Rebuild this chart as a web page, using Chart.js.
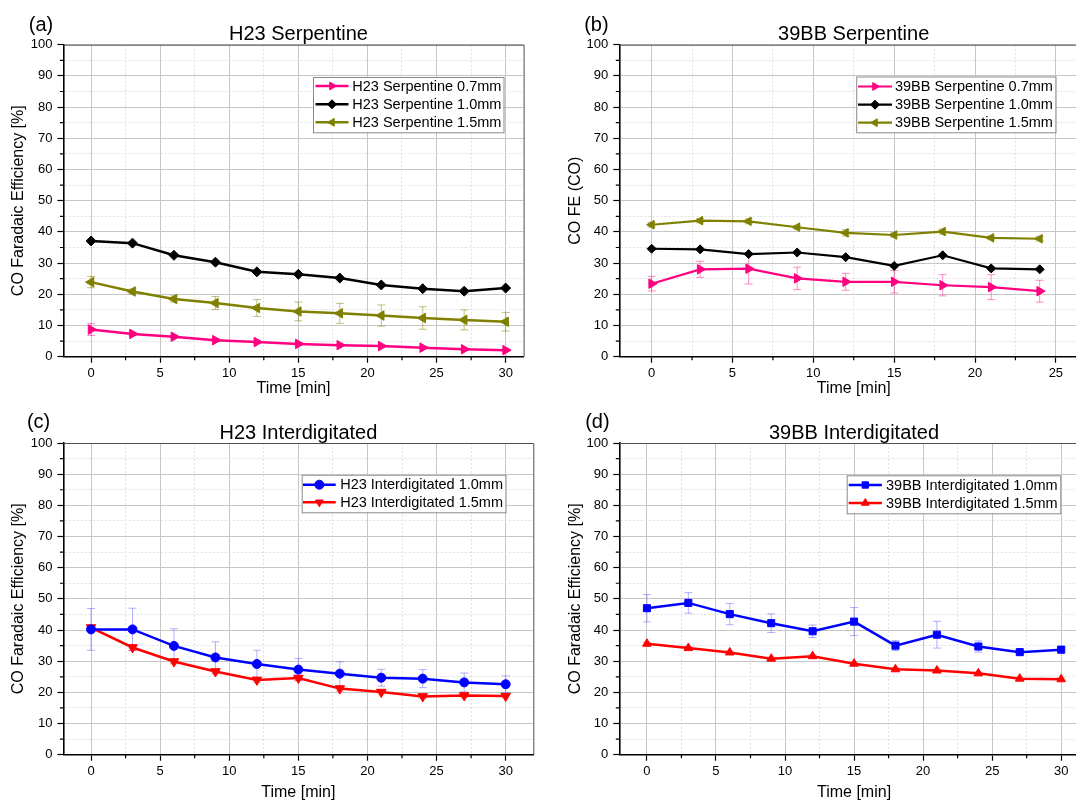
<!DOCTYPE html>
<html><head><meta charset="utf-8">
<script src="https://cdn.jsdelivr.net/npm/chart.js@4.4.0/dist/chart.umd.min.js"></script>
<style>
html,body{margin:0;padding:0;background:#fff;overflow:hidden;width:1076px;height:801px;position:relative;}
canvas{position:absolute;}
</style></head><body>
<canvas id="ca" width="540" height="400" style="left:0;top:0"></canvas>
<canvas id="cb" width="560" height="400" style="left:540px;top:0"></canvas>
<canvas id="cc" width="540" height="405" style="left:0;top:400px"></canvas>
<canvas id="cd" width="560" height="405" style="left:540px;top:400px"></canvas>
<script>
// ---------- data ----------
const time30 = [0, 3, 6, 9, 12, 15, 18, 21, 24, 27, 30];
const time24 = [0, 3, 6, 9, 12, 15, 18, 21, 24];
const yTickLabels = [0, 10, 20, 30, 40, 50, 60, 70, 80, 90, 100];
const xTickLabels30 = [0, 5, 10, 15, 20, 25, 30];
const xTickLabels25 = [0, 5, 10, 15, 20, 25];

// (a) H23 Serpentine
const h23Serp07 = [8.7, 7.3, 6.4, 5.3, 4.7, 4.1, 3.7, 3.4, 2.9, 2.4, 2.1];
const h23Serp07Err = [1.9, 0.6, 0.5, 0.5, 0.4, 0.4, 0.3, 0.3, 0.3, 0.3, 0.3];
const h23Serp10 = [37.1, 36.4, 32.5, 30.3, 27.2, 26.4, 25.2, 23.0, 21.8, 21.0, 22.0];
const h23Serp10Err = [0.3, 0.3, 0.3, 0.3, 0.3, 0.3, 0.3, 0.3, 0.3, 0.3, 0.3];
const h23Serp15 = [23.9, 20.9, 18.5, 17.2, 15.6, 14.5, 13.9, 13.2, 12.4, 11.8, 11.2];
const h23Serp15Err = [1.8, 0.8, 1.0, 2.1, 2.7, 3.0, 3.2, 3.4, 3.6, 3.2, 3.0];

// (b) 39BB Serpentine
const bbSerp07 = [23.4, 28.0, 28.2, 25.1, 24.0, 24.0, 22.9, 22.3, 21.0];
const bbSerp07Err = [2.35, 2.6, 4.9, 3.6, 2.7, 3.6, 3.4, 4.0, 3.5];
const bbSerp10 = [34.6, 34.4, 32.9, 33.4, 31.9, 29.1, 32.5, 28.3, 28.0];
const bbSerp10Err = [0.4, 0.4, 0.4, 0.4, 0.4, 0.4, 0.4, 0.4, 0.4];
const bbSerp15 = [42.3, 43.6, 43.4, 41.5, 39.7, 39.0, 40.1, 38.1, 37.8];
const bbSerp15Err = [0.8, 0.7, 0.8, 0.6, 1.0, 0.7, 0.8, 0.6, 0.7];

// (c) H23 Interdigitated
const h23Int10 = [40.2, 40.2, 34.9, 31.2, 29.1, 27.3, 26.0, 24.7, 24.4, 23.2, 22.6];
const h23Int10Err = [6.7, 6.8, 5.5, 5.0, 4.4, 3.6, 3.8, 2.7, 2.9, 3.0, 2.7];
const h23Int15 = [40.8, 34.4, 29.9, 26.7, 24.0, 24.6, 21.2, 20.1, 18.7, 19.0, 18.8];
const h23Int15Err = [0.8, 1.0, 0.8, 0.8, 0.8, 0.8, 0.8, 0.6, 0.6, 0.6, 0.6];

// (d) 39BB Interdigitated
const bbInt10 = [47.0, 48.7, 45.1, 42.2, 39.6, 42.7, 35.0, 38.5, 34.7, 32.9, 33.7];
const bbInt10Err = [4.4, 3.3, 3.4, 3.0, 2.0, 4.5, 1.6, 4.3, 1.8, 0.6, 0.6];
const bbInt15 = [35.6, 34.2, 32.8, 30.8, 31.6, 29.2, 27.4, 27.0, 26.1, 24.4, 24.2];
const bbInt15Err = [0.5, 0.5, 0.5, 0.5, 0.5, 0.5, 0.5, 0.5, 0.5, 0.5, 0.5];

// ---------- helpers ----------
const FONT = '"Liberation Sans", Arial, sans-serif';
const PINK = '#FF0080', OLIVE = '#808000', BLACK = '#000000', BLUE = '#0000FF', RED = '#FF0000';

function withMinor(major) {
  const out = [];
  for (let i = 0; i < major.length; i++) {
    out.push(major[i]);
    if (i < major.length - 1) out.push((major[i] + major[i + 1]) / 2);
  }
  return out;
}

function series(label, xs, ys, errs, color, errColor, style, rot, radius, lw) {
  return {
    label, data: xs.map((x, i) => ({x: x, y: ys[i]})), errors: errs, errColor: errColor,
    borderColor: color, backgroundColor: color, pointBackgroundColor: color, pointBorderColor: color,
    pointStyle: style, pointRotation: rot, pointRadius: radius, pointHoverRadius: radius,
    pointBorderWidth: 1, borderWidth: lw, tension: 0, fill: false
  };
}

const decoPlugin = {
  id: 'deco',
  beforeDatasetsDraw(chart) {
    const ctx = chart.ctx, xs = chart.scales.x, ys = chart.scales.y;
    chart.data.datasets.forEach(d => {
      if (!d.errors) return;
      ctx.save();
      ctx.strokeStyle = d.errColor; ctx.lineWidth = 1;
      d.data.forEach((p, i) => {
        const e = d.errors[i]; if (!e) return;
        const x = xs.getPixelForValue(p.x);
        const y0 = ys.getPixelForValue(p.y - e), y1 = ys.getPixelForValue(p.y + e);
        ctx.beginPath();
        ctx.moveTo(x, y0); ctx.lineTo(x, y1);
        ctx.moveTo(x - 4, y0); ctx.lineTo(x + 4, y0);
        ctx.moveTo(x - 4, y1); ctx.lineTo(x + 4, y1);
        ctx.stroke();
      });
      ctx.restore();
    });
  },
  afterDraw(chart, args, o) {
    const ctx = chart.ctx, a = chart.chartArea, xs = chart.scales.x, ys = chart.scales.y;
    ctx.save();
    // frame top/right
    ctx.strokeStyle = '#505050'; ctx.lineWidth = 1;
    ctx.beginPath();
    ctx.moveTo(a.left, a.top + 0.5); ctx.lineTo(a.right + 0.5, a.top + 0.5); ctx.lineTo(a.right + 0.5, a.bottom);
    ctx.stroke();
    // minor ticks
    ctx.strokeStyle = '#000'; ctx.lineWidth = 1.2;
    ctx.beginPath();
    o.xMinor.forEach(v => { const x = xs.getPixelForValue(v); ctx.moveTo(x, a.bottom); ctx.lineTo(x, a.bottom + 3.5); });
    o.yMinor.forEach(v => { const y = ys.getPixelForValue(v); ctx.moveTo(a.left, y); ctx.lineTo(a.left - 3.5, y); });
    ctx.stroke();
    // title + letter
    ctx.fillStyle = '#000'; ctx.textBaseline = 'alphabetic';
    ctx.font = '20px ' + FONT; ctx.textAlign = 'center';
    ctx.fillText(o.title, o.tx, o.ty);
    ctx.fillText(o.letter, o.lx, o.ly);
    // legend
    const L = o.legend;
    ctx.fillStyle = '#fff';
    ctx.fillRect(L.x0, L.y0, L.x1 - L.x0, L.y1 - L.y0);
    ctx.strokeStyle = '#8a8a8a'; ctx.lineWidth = 1;
    ctx.strokeRect(L.x0 + 0.5, L.y0 + 0.5, L.x1 - L.x0, L.y1 - L.y0);
    chart.data.datasets.forEach((d, i) => {
      const y = L.rows[i];
      ctx.strokeStyle = d.borderColor; ctx.lineWidth = d.borderWidth;
      ctx.beginPath(); ctx.moveTo(L.lx0, y); ctx.lineTo(L.lx1, y); ctx.stroke();
      ctx.fillStyle = d.borderColor; ctx.lineWidth = 1;
      Chart.helpers.drawPoint(ctx, {pointStyle: d.pointStyle, rotation: d.pointRotation, radius: 4.5, borderWidth: 1}, (L.lx0 + L.lx1) / 2, y);
      ctx.fillStyle = '#000'; ctx.font = '14.5px ' + FONT; ctx.textAlign = 'left'; ctx.textBaseline = 'middle';
      ctx.fillText(d.label, L.tx, y + 0.5);
    });
    ctx.restore();
  }
};

function makeChart(id, cfg) {
  const xAll = withMinor(cfg.xMajor), yAll = withMinor(yTickLabels);
  const isMajX = v => cfg.xMajor.includes(v);
  const isMajY = v => yTickLabels.includes(v);
  const xMinor = xAll.filter(v => !isMajX(v)), yMinor = yAll.filter(v => !isMajY(v));
  return new Chart(document.getElementById(id), {
    type: 'line',
    data: {datasets: cfg.datasets},
    plugins: [decoPlugin],
    options: {
      responsive: false, animation: false, devicePixelRatio: 1,
      layout: {padding: cfg.padding},
      plugins: {
        legend: {display: false}, tooltip: {enabled: false}, title: {display: false},
        deco: {title: cfg.title, tx: cfg.tx, ty: cfg.ty, letter: cfg.letter, lx: cfg.lx, ly: cfg.ly,
               legend: cfg.legend, xMinor: xMinor, yMinor: yMinor}
      },
      scales: {
        x: {
          type: 'linear', min: cfg.xMin, max: cfg.xMax,
          afterBuildTicks: s => { s.ticks = xAll.map(v => ({value: v})); },
          afterFit: s => { s.height = cfg.xH; },
          ticks: {autoSkip: false, maxRotation: 0, padding: 3, color: '#000',
                  font: {family: FONT, size: 13}, callback: v => isMajX(v) ? String(v) : ''},
          grid: {color: c => (c.tick && !isMajX(c.tick.value)) ? '#e0e0e0' : '#c6c6c6', lineWidth: 1,
                 tickLength: 6, tickWidth: 1.2,
                 tickColor: c => (c.tick && isMajX(c.tick.value)) ? '#000' : 'rgba(0,0,0,0)'},
          border: {color: '#000', width: 1.6, dash: c => (c.tick && !isMajX(c.tick.value)) ? [2, 2] : []},
          title: {display: true, text: 'Time [min]', color: '#000', font: {family: FONT, size: 16},
                  padding: {top: 0, bottom: cfg.xTitlePad}}
        },
        y: {
          type: 'linear', min: 0, max: 100,
          afterBuildTicks: s => { s.ticks = yAll.map(v => ({value: v})); },
          afterFit: s => { s.width = cfg.yW; },
          ticks: {autoSkip: false, padding: 5, color: '#000',
                  font: {family: FONT, size: 13}, callback: v => isMajY(v) ? String(v) : ''},
          grid: {color: c => (c.tick && !isMajY(c.tick.value)) ? '#e0e0e0' : '#c6c6c6', lineWidth: 1,
                 tickLength: 6, tickWidth: 1.2,
                 tickColor: c => (c.tick && isMajY(c.tick.value)) ? '#000' : 'rgba(0,0,0,0)'},
          border: {color: '#000', width: 1.6, dash: c => (c.tick && !isMajY(c.tick.value)) ? [2, 2] : []},
          title: {display: true, text: cfg.yTitle, color: '#000', font: {family: FONT, size: 16},
                  padding: {top: cfg.yTitlePad, bottom: 0}}
        }
      }
    }
  });
}

makeChart('ca', {
  title: 'H23 Serpentine', tx: 298.5, ty: 40, letter: '(a)', lx: 41, ly: 30.5,
  xMin: -2, xMax: 31.3, xMajor: xTickLabels30,
  padding: {top: 44.7, right: 16.4, left: 0, bottom: 0}, yW: 63.4, xH: 43.3, yTitlePad: 9.4, xTitlePad: 1.4,
  yTitle: 'CO Faradaic Efficiency [%]',
  legend: {x0: 313, y0: 77, x1: 503.5, y1: 132.3, rows: [86, 104.3, 122.3], lx0: 315.5, lx1: 348.5, tx: 352.3},
  datasets: [
    series('H23 Serpentine 0.7mm', time30, h23Serp07, h23Serp07Err, PINK, 'rgba(255,0,128,0.45)', 'triangle', 90, 5.5, 2.5),
    series('H23 Serpentine 1.0mm', time30, h23Serp10, h23Serp10Err, BLACK, 'rgba(0,0,0,0.35)', 'rectRot', 0, 5, 2.5),
    series('H23 Serpentine 1.5mm', time30, h23Serp15, h23Serp15Err, OLIVE, 'rgba(128,128,0,0.5)', 'triangle', -90, 5.5, 2.5)
  ]
});

makeChart('cb', {
  title: '39BB Serpentine', tx: 313.7, ty: 40, letter: '(b)', lx: 56.4, ly: 30.5,
  xMin: -2, xMax: 27, xMajor: xTickLabels25,
  padding: {top: 44.7, right: 11.8, left: 0, bottom: 0}, yW: 79.3, xH: 43.3, yTitlePad: 26.3, xTitlePad: 1.4,
  yTitle: 'CO FE (CO)',
  legend: {x0: 316.2, y0: 76.5, x1: 515.5, y1: 132.3, rows: [86.5, 104.7, 122.7], lx0: 318, lx1: 352, tx: 354.9},
  datasets: [
    series('39BB Serpentine 0.7mm', time24, bbSerp07, bbSerp07Err, PINK, 'rgba(255,0,128,0.45)', 'triangle', 90, 5.5, 2.2),
    series('39BB Serpentine 1.0mm', time24, bbSerp10, bbSerp10Err, BLACK, 'rgba(0,0,0,0.35)', 'rectRot', 0, 4.5, 2.2),
    series('39BB Serpentine 1.5mm', time24, bbSerp15, bbSerp15Err, OLIVE, 'rgba(128,128,0,0.5)', 'triangle', -90, 5, 2.2)
  ]
});

makeChart('cc', {
  title: 'H23 Interdigitated', tx: 298.4, ty: 38.5, letter: '(c)', lx: 38.6, ly: 27.5,
  xMin: -2, xMax: 32, xMajor: xTickLabels30,
  padding: {top: 43, right: 6.7, left: 0, bottom: 0}, yW: 63.4, xH: 50.3, yTitlePad: 9.4, xTitlePad: 2.4,
  yTitle: 'CO Faradaic Efficiency [%]',
  legend: {x0: 301.7, y0: 74.7, x1: 505.5, y1: 112.3, rows: [84.7, 102.3], lx0: 303, lx1: 335.7, tx: 340.2},
  datasets: [
    series('H23 Interdigitated 1.0mm', time30, h23Int10, h23Int10Err, BLUE, 'rgba(80,80,255,0.45)', 'circle', 0, 4.5, 2.5),
    series('H23 Interdigitated 1.5mm', time30, h23Int15, h23Int15Err, RED, 'rgba(255,0,0,0.35)', 'triangle', 180, 5.5, 2.5)
  ]
});

makeChart('cd', {
  title: '39BB Interdigitated', tx: 314, ty: 38.5, letter: '(d)', lx: 57.4, ly: 27.5,
  xMin: -2, xMax: 32, xMajor: xTickLabels30,
  padding: {top: 43, right: 11.2, left: 0, bottom: 0}, yW: 79.3, xH: 50.3, yTitlePad: 26.3, xTitlePad: 2.4,
  yTitle: 'CO Faradaic Efficiency [%]',
  legend: {x0: 306.7, y0: 75.3, x1: 520.3, y1: 113.3, rows: [85, 103], lx0: 308.7, lx1: 341.9, tx: 346},
  datasets: [
    series('39BB Interdigitated 1.0mm', time30, bbInt10, bbInt10Err, BLUE, 'rgba(80,80,255,0.45)', 'rect', 0, 5, 2.5),
    series('39BB Interdigitated 1.5mm', time30, bbInt15, bbInt15Err, RED, 'rgba(255,0,0,0.35)', 'triangle', 0, 5, 2.5)
  ]
});
</script>
</body></html>
